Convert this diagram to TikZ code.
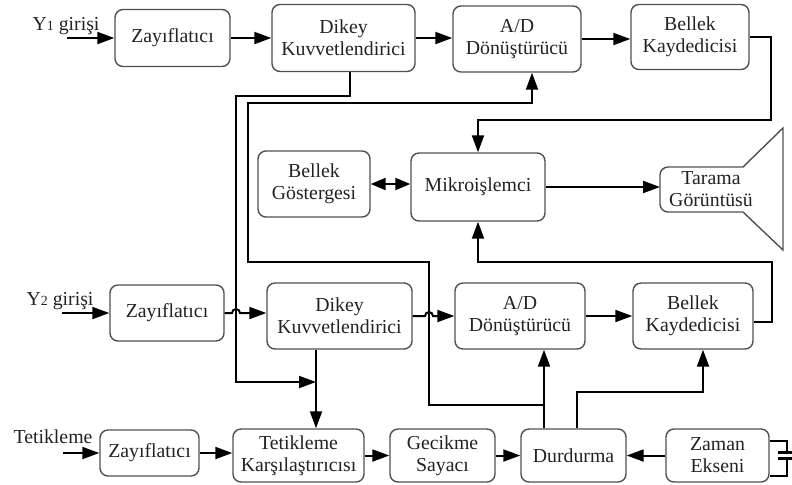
\documentclass[tikz,border=0pt]{standalone}
\usepackage{fontspec}
\setmainfont{Liberation Serif}
\usetikzlibrary{arrows.meta}
\definecolor{boxgray}{HTML}{505050}
\definecolor{txt}{HTML}{222222}
\begin{document}
\begin{tikzpicture}[x=0.5pt,y=-0.5pt,
  box/.style={draw=boxgray, line width=0.7pt, rounded corners=4pt, align=center,
    inner sep=0pt, text=txt, font=\fontsize{9.9}{11}\selectfont},
  wh/.style 2 args={minimum width=#1*0.5pt, minimum height=#2*0.5pt},
  lbl/.style={inner sep=0pt, text=txt, font=\fontsize{9.9}{11}\selectfont},
  boxln/.style={draw=boxgray, line width=0.7pt},
  conn/.style={line width=1pt, draw=black},
  arr/.style={conn, -{Triangle[length=8.5pt,width=6pt]}},
  bidir/.style={conn, {Triangle[length=7.5pt,width=6pt]}-{Triangle[length=7.5pt,width=6pt]}},
  capw/.style={line width=0.8pt, draw=black},
  plate/.style={line width=1.5pt, draw=black}]
\useasboundingbox (0,0) rectangle (792,484);

% ---- row 1
\node[box, wh={115}{57}] (z1) at (172.5,38) {Zayıflatıcı};
\node[box, wh={143}{67}] (d1) at (343.5,38) {Dikey\\Kuvvetlendirici};
\node[box, wh={128}{66}] (a1) at (517,39) {A/D\\Dönüştürücü};
\node[box, wh={118}{65}] (b1) at (690,37) {Bellek\\Kaydedicisi};
\node[lbl] (l1) at (66,26) {Y{\scriptsize 1} girişi};

% ---- middle row
\node[box, wh={112}{66}] (bg) at (314,184) {Bellek\\Göstergesi};
\node[box, wh={134}{68}] (mk) at (478,187) {Mikroişlemci};
\node[lbl, minimum width=50pt, minimum height=22.5pt, align=center] (ta) at (711,189.5) {Tarama\\Görüntüsü};

% ---- row 3
\node[box, wh={114}{56}] (z2) at (167,313) {Zayıflatıcı};
\node[box, wh={145}{66}] (d2) at (339.5,316) {Dikey\\Kuvvetlendirici};
\node[box, wh={130}{66}] (a2) at (520,316) {A/D\\Dönüştürücü};
\node[box, wh={120}{66}] (b2) at (693,316) {Bellek\\Kaydedicisi};
\node[lbl] (l2) at (60,301) {Y{\scriptsize 2} girişi};

% ---- row 4
\node[box, wh={99}{46}] (z3) at (149.5,453) {Zayıflatıcı};
\node[box, wh={131}{53}] (tk) at (298.5,455.5) {Tetikleme\\Karşılaştırıcısı};
\node[box, wh={105}{53}] (gs) at (442.5,455.5) {Gecikme\\Sayacı};
\node[box, wh={105}{53}] (du) at (573.5,455.5) {Durdurma};
\node[box, wh={103}{53}] (ze) at (717.5,455.5) {Zaman\\Ekseni};
\node[lbl] (l3) at (53,437) {Tetikleme};

% ---- Tarama outline
\draw[boxln, rounded corners=4pt] (743,167) -- (660,167) -- (660,212) -- (743,212);
\draw[boxln] (743,167) -- (783,128) -- (783,250) -- (743,212);

% ---- row 1 connectors
\coordinate (in1) at (67,38);
\draw[arr] (in1) -- (z1.west);
\draw[arr] (z1.east) -- (z1.east -| d1.west);
\draw[arr] (d1.east) -- (d1.east -| a1.west);
\draw[arr] (a1.east) -- (a1.east -| b1.west);
\coordinate (r0) at (771,120);
\draw[arr] (b1.east) -| (r0) -| (mk.north);

% ---- middle connectors
\coordinate (tw) at (660,187);
\draw[bidir] (bg.east) -- (bg.east -| mk.west);
\draw[arr] (mk.east) -- (mk.east -| tw);

% ---- Dikey 1 to trigger line
\coordinate (s0) at (350,96);
\coordinate (s1) at (236,382);
\coordinate (j1) at (316,382);
\draw[arr] (d1.south -| s0) -- (s0) -| (s1) -- (j1);
\draw[arr] (d2.south -| j1) -- (tk.north -| j1);

% ---- feedback to A/D 1
\coordinate (p1) at (544,405);
\coordinate (t1) at (429,262);
\coordinate (t2) at (248,103);
\coordinate (p4) at (532,103);
\draw[arr] (p1) -| (t1) -| (t2) -- (p4) -- (a1.south -| p4);
\draw[arr] (du.north -| p1) -- (a2.south -| p1);
\coordinate (p2) at (577,392);
\coordinate (p3) at (703,392);
\draw[arr] (du.north -| p2) -- (p2) -- (p3) -- (b2.south -| p3);

% ---- Bellek 2 to Mikro
\coordinate (r1) at (772,322);
\coordinate (r2) at (772,262);
\draw[arr] (b2.east |- r1) -- (r1) -- (r2) -| (mk.south);

% ---- row 3 connectors
\coordinate (in2) at (62,313);
\draw[arr] (in2) -- (z2.west);
\draw[arr] (z2.east) -- (232,313) arc[start angle=180,end angle=360,radius=4] -- (z2.east -| d2.west);
\draw[arr] (d2.east) -- (425,316) arc[start angle=180,end angle=360,radius=4] -- (d2.east -| a2.west);
\draw[arr] (a2.east) -- (a2.east -| b2.west);

% ---- row 4 connectors
\coordinate (in3) at (63,453);
\draw[arr] (in3) -- (z3.west);
\draw[arr] (z3.east) -- (z3.east -| tk.west);
\draw[arr] (tk.east) -- (tk.east -| gs.west);
\draw[arr] (gs.east) -- (gs.east -| du.west);
\draw[arr] (ze.west) -- (ze.west -| du.east);

% ---- capacitor at Zaman Ekseni
\coordinate (k1) at (787,441);
\coordinate (k2) at (787,452);
\coordinate (k3) at (787,458);
\coordinate (k4) at (787,476);
\draw[capw] (ze.east |- k1) -- (k1) -- (k2);
\draw[capw] (k3) -- (k4) -- (ze.east |- k4);
\draw[plate] (778,452) -- (792,452);
\draw[plate] (778,458) -- (792,458);
\end{tikzpicture}
\end{document}
